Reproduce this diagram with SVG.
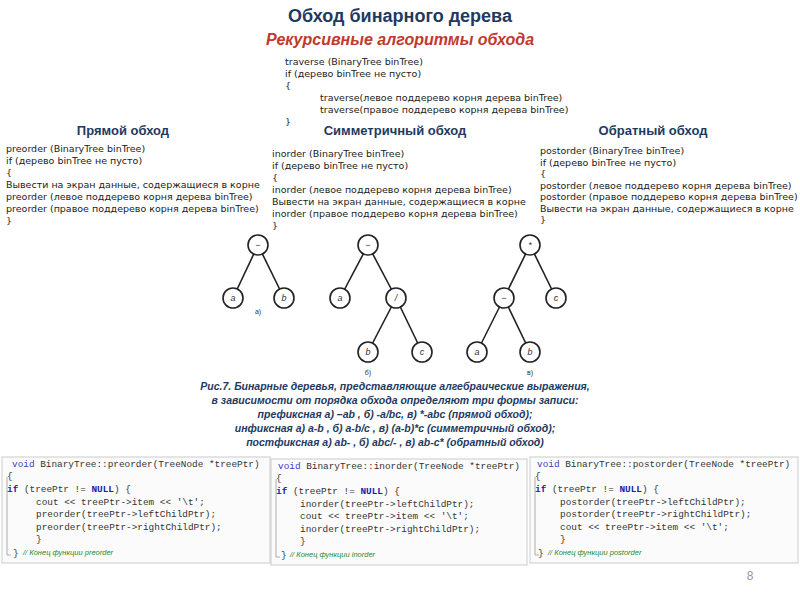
<svg xmlns="http://www.w3.org/2000/svg" width="800" height="600" viewBox="0 0 800 600">
<style>
.t{font-family:"Liberation Sans",Arial,sans-serif;fill:#1f3a5f;font-weight:bold}
.p{font-family:"DejaVu Sans",sans-serif;font-size:9.5px;fill:#222}
.cap{font-family:"Liberation Sans",Arial,sans-serif;font-size:10.5px;font-style:italic;font-weight:bold;fill:#1f3a5f;text-anchor:middle}
.c{font-family:"Liberation Mono","Courier New",monospace;font-size:9.4px;fill:#333}
.k{fill:#1a1ab0;font-weight:bold}
.v{fill:#4040c0}
.cm{font-family:"Liberation Sans",Arial,sans-serif;font-size:7.5px;font-style:italic;fill:#2a8a2a}
.n circle{fill:#fff;stroke:#222;stroke-width:1.6}
.n text{font-family:"Liberation Sans",Arial,sans-serif;font-size:9px;font-style:italic;text-anchor:middle;fill:#333}
.e line{stroke:#222;stroke-width:1.6}
.lb{font-family:"Liberation Sans",Arial,sans-serif;font-size:7px;fill:#333;text-anchor:middle}
.box{fill:#fbfbfb;stroke:#ccc}
.gut{stroke:#999;fill:none;stroke-width:0.8}
</style>
<rect width="800" height="600" fill="#fff"/>
<text class="t" x="400" y="22" font-size="18" text-anchor="middle">Обход бинарного дерева</text>
<text class="t" x="400" y="45" font-size="16" text-anchor="middle" style="fill:#c0392b;font-style:italic">Рекурсивные алгоритмы обхода</text>
<g class="p">
<text x="285" y="65">traverse (BinaryTree binTree)</text>
<text x="285" y="77">if (дерево binTree не пусто)</text>
<text x="285" y="89">{</text>
<text x="320" y="101">traverse(левое поддерево корня дерева binTree)</text>
<text x="320" y="113">traverse(правое поддерево корня дерева binTree)</text>
<text x="285" y="125">}</text>
</g>
<text class="t" x="123" y="135" font-size="13" text-anchor="middle">Прямой обход</text>
<text class="t" x="395" y="135" font-size="13" text-anchor="middle">Симметричный обход</text>
<text class="t" x="653" y="135" font-size="13" text-anchor="middle">Обратный обход</text>
<g class="p">
<text x="6" y="152">preorder (BinaryTree binTree)</text>
<text x="6" y="164">if (дерево binTree не пусто)</text>
<text x="6" y="176">{</text>
<text x="6" y="188">Вывести на экран данные, содержащиеся в корне</text>
<text x="6" y="200">preorder (левое поддерево корня дерева binTree)</text>
<text x="6" y="212">preorder (правое поддерево корня дерева binTree)</text>
<text x="6" y="224">}</text>
<text x="272" y="157">inorder (BinaryTree binTree)</text>
<text x="272" y="169">if (дерево binTree не пусто)</text>
<text x="272" y="181">{</text>
<text x="272" y="193">inorder (левое поддерево корня дерева binTree)</text>
<text x="272" y="205">Вывести на экран данные, содержащиеся в корне</text>
<text x="272" y="217">inorder (правое поддерево корня дерева binTree)</text>
<text x="272" y="229">}</text>
<text x="540" y="154">postorder (BinaryTree binTree)</text>
<text x="540" y="165.5">if (дерево binTree не пусто)</text>
<text x="540" y="177">{</text>
<text x="540" y="188.5">postorder (левое поддерево корня дерева binTree)</text>
<text x="540" y="200">postorder (правое поддерево корня дерева binTree)</text>
<text x="540" y="211.5">Вывести на экран данные, содержащиеся в корне</text>
<text x="540" y="223">}</text>
</g>
<g id="connectors" class="e">
<line x1="258" y1="245" x2="233" y2="298"/><line x1="258" y1="245" x2="284" y2="298"/>
<line x1="368" y1="245" x2="340" y2="298"/><line x1="368" y1="245" x2="396" y2="298"/>
<line x1="396" y1="298" x2="368" y2="352"/><line x1="396" y1="298" x2="422" y2="352"/>
<line x1="530" y1="245" x2="504" y2="298"/><line x1="530" y1="245" x2="556" y2="298"/>
<line x1="504" y1="298" x2="477" y2="352"/><line x1="504" y1="298" x2="530" y2="352"/>
</g>
<g id="a_root" class="n"><circle cx="258" cy="245" r="10"/><text x="258" y="248">−</text></g>
<g id="a_a" class="n"><circle cx="233" cy="298" r="10"/><text x="233" y="301">a</text></g>
<g id="a_b" class="n"><circle cx="284" cy="298" r="10"/><text x="284" y="301">b</text></g>
<g id="b_root" class="n"><circle cx="368" cy="245" r="10"/><text x="368" y="248">−</text></g>
<g id="b_a" class="n"><circle cx="340" cy="298" r="10"/><text x="340" y="301">a</text></g>
<g id="b_div" class="n"><circle cx="396" cy="298" r="10"/><text x="396" y="301">/</text></g>
<g id="b_b" class="n"><circle cx="368" cy="352" r="10"/><text x="368" y="355">b</text></g>
<g id="b_c" class="n"><circle cx="422" cy="352" r="10"/><text x="422" y="355">c</text></g>
<g id="c_root" class="n"><circle cx="530" cy="245" r="10"/><text x="530" y="248">*</text></g>
<g id="c_minus" class="n"><circle cx="504" cy="298" r="10"/><text x="504" y="301">−</text></g>
<g id="c_c" class="n"><circle cx="556" cy="298" r="10"/><text x="556" y="301">c</text></g>
<g id="c_a" class="n"><circle cx="477" cy="352" r="10"/><text x="477" y="355">a</text></g>
<g id="c_b" class="n"><circle cx="530" cy="352" r="10"/><text x="530" y="355">b</text></g>
<text class="lb" x="258" y="314">a)</text>
<text class="lb" x="368" y="375">б)</text>
<text class="lb" x="530" y="375">в)</text>
<text class="cap" x="395" y="390">Рис.7. Бинарные деревья, представляющие алгебраические выражения,</text>
<text class="cap" x="395" y="404">в зависимости от порядка обхода определяют три формы записи:</text>
<text class="cap" x="395" y="418">префиксная а) –ab , б) -a/bc, в) *-abc (прямой обход);</text>
<text class="cap" x="395" y="432">инфиксная а) a-b , б) a-b/c , в) (a-b)*c (симметричный обход);</text>
<text class="cap" x="395" y="446">постфиксная а) ab- , б) abc/- , в) ab-c* (обратный обход)</text>
<rect class="box" x="2" y="457" width="268" height="106"/>
<rect class="box" x="271" y="459" width="256" height="106"/>
<rect class="box" x="530" y="457" width="268" height="106"/>
<path class="gut" d="M7 477v78h4M276 479v78h4M535 477v78h4"/>
<g class="c">
<text x="12" y="467"><tspan class="v">void</tspan> BinaryTree::preorder(TreeNode *treePtr)</text>
<text x="7" y="479">{</text>
<text x="7" y="492"><tspan class="k">if</tspan> (treePtr != <tspan class="k">NULL</tspan>) {</text>
<text x="36" y="505">cout &lt;&lt; treePtr-&gt;item &lt;&lt; '\t';</text>
<text x="36" y="517">preorder(treePtr-&gt;leftChildPtr);</text>
<text x="36" y="530">preorder(treePtr-&gt;rightChildPtr);</text>
<text x="36" y="542">}</text>
<text x="278" y="469"><tspan class="v">void</tspan> BinaryTree::inorder(TreeNode *treePtr)</text>
<text x="276" y="481">{</text>
<text x="276" y="494"><tspan class="k">if</tspan> (treePtr != <tspan class="k">NULL</tspan>) {</text>
<text x="300" y="507">inorder(treePtr-&gt;leftChildPtr);</text>
<text x="300" y="519">cout &lt;&lt; treePtr-&gt;item &lt;&lt; '\t';</text>
<text x="300" y="532">inorder(treePtr-&gt;rightChildPtr);</text>
<text x="300" y="544">}</text>
<text x="537" y="467"><tspan class="v">void</tspan> BinaryTree::postorder(TreeNode *treePtr)</text>
<text x="535" y="479">{</text>
<text x="535" y="492"><tspan class="k">if</tspan> (treePtr != <tspan class="k">NULL</tspan>) {</text>
<text x="560" y="505">postorder(treePtr-&gt;leftChildPtr);</text>
<text x="560" y="517">postorder(treePtr-&gt;rightChildPtr);</text>
<text x="560" y="530">cout &lt;&lt; treePtr-&gt;item &lt;&lt; '\t';</text>
<text x="560" y="542">}</text>
</g>
<text class="c" x="13" y="556">}</text><text class="cm" x="23" y="555">// Конец функции preorder</text>
<text class="c" x="281" y="558">}</text><text class="cm" x="290" y="557">// Конец функции inorder</text>
<text class="c" x="538" y="556">}</text><text class="cm" x="548" y="555">// Конец функции postorder</text>
<text x="750" y="580" font-family="Liberation Sans,Arial,sans-serif" font-size="12" fill="#999" text-anchor="middle">8</text>
</svg>
